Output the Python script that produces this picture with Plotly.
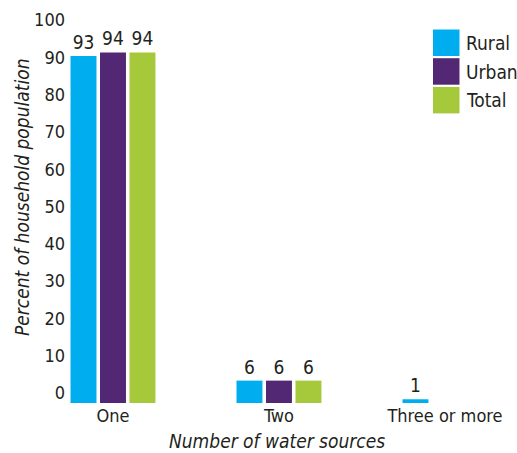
import plotly.graph_objects as go

categories = ["One", "Two", "Three or more"]
series_names = ["Rural", "Urban", "Total"]
rural = [93, 6, 1]
urban = [94, 6, 0]
total = [94, 6, 0]
labels_rural = ["93", "6", "1"]
labels_urban = ["94", "6", ""]
labels_total = ["94", "6", ""]
y_ticks = [0, 10, 20, 30, 40, 50, 60, 70, 80, 90, 100]

colors = ["#00AEEF", "#522773", "#A5C93B"]
FONT = "DejaVu Sans Condensed, Liberation Sans Narrow, sans-serif"
TXT = "#231F20"

fig = go.Figure()
for name, vals, labs, col in zip(series_names, [rural, urban, total],
                                 [labels_rural, labels_urban, labels_total], colors):
    fig.add_trace(go.Bar(
        name=name, x=categories, y=vals, text=labs,
        textposition="outside", cliponaxis=False,
        textfont=dict(family=FONT, size=19, color=TXT),
        marker=dict(color=col, line=dict(width=0)),
        showlegend=False,
    ))

W, H = 517, 453
L, R, T, B = 70, 0, 30, 50
pw, ph = W - L - R, H - T - B

def px_x(px):
    return (px - L) / pw

def px_y(py):
    return (H - B - py) / ph

shapes = []
annotations = []
for i, (name, col) in enumerate(zip(series_names, colors)):
    top = 29.5 + i * 28.7
    shapes.append(dict(type="rect", xref="paper", yref="paper",
                       x0=px_x(433), x1=px_x(459.5), y0=px_y(top + 26.5), y1=px_y(top),
                       line=dict(width=0), fillcolor=col))
    annotations.append(dict(text=name, showarrow=False, xanchor="left", yanchor="middle",
                            x=px_x(464), y=px_y(top + 13.5), xref="paper", yref="paper",
                            font=dict(family=FONT, size=19, color=TXT)))

annotations.append(dict(text="Number of water sources", xref="paper", yref="paper",
                        x=px_x(277), y=px_y(441), showarrow=False,
                        xanchor="center", yanchor="middle",
                        font=dict(family=FONT, size=19, color=TXT, style="italic")))
annotations.append(dict(text="Percent of household population", xref="paper", yref="paper",
                        x=px_x(22), y=px_y(198), showarrow=False, textangle=-90,
                        xanchor="center", yanchor="middle",
                        font=dict(family=FONT, size=19, color=TXT, style="italic")))

fig.update_layout(
    width=W, height=H,
    margin=dict(l=L, r=R, t=T, b=B, pad=0),
    paper_bgcolor="white", plot_bgcolor="white",
    barmode="group", bargap=0.467, bargroupgap=0.12,
    font=dict(family=FONT, size=18, color=TXT),
    shapes=shapes, annotations=annotations,
    xaxis=dict(type="category", range=[-0.259, 2.434], showgrid=False, zeroline=False,
               showline=False, ticks="", tickfont=dict(family=FONT, size=18, color=TXT)),
    yaxis=dict(range=[0, 100], tickvals=y_ticks, showgrid=False, zeroline=False,
               showline=False, ticks="", ticklabelshift=-10, ticklabelstandoff=4,
               tickfont=dict(family=FONT, size=18, color=TXT)),
)

fig.write_html("out.html", config={"displayModeBar": False},
               post_script="document.body.style.margin='0';")
